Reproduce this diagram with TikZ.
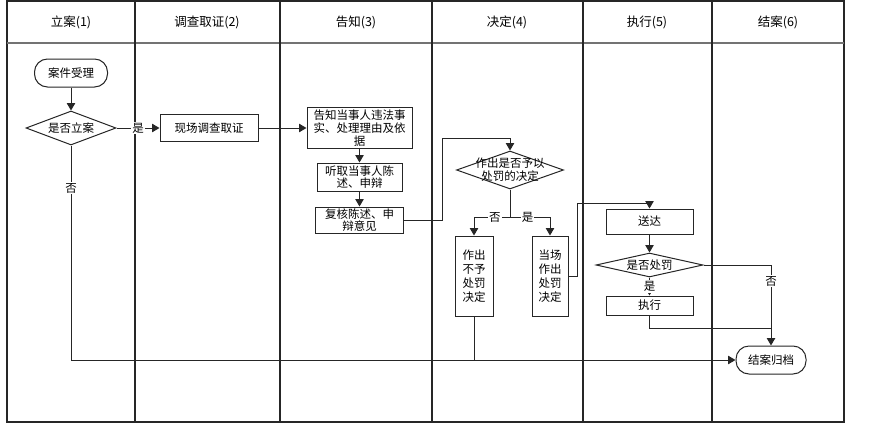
\documentclass[tikz,border=0pt]{standalone}
\usepackage{fontspec}
\setmainfont{Noto Sans CJK SC}
\usetikzlibrary{shapes,arrows.meta}
\tikzstyle{lane}=[draw=black!85,line width=1.3pt]
\tikzstyle{hd}=[font=\fontsize{12.5}{14}\selectfont]
\tikzstyle{bx}=[rectangle,draw=black!85,line width=1pt,inner sep=1pt,align=center,fill=white,font=\fontsize{11.5}{12.8}\selectfont]
\tikzstyle{tm}=[bx,rounded corners=13pt]
\tikzstyle{dm}=[diamond,draw=black!85,line width=1pt,inner sep=0pt,fill=white]
\tikzstyle{every label}=[align=center,font=\fontsize{11.5}{12.8}\selectfont]
\tikzstyle{ln}=[draw=black!85,line width=1pt]
\tikzstyle{ar}=[ln,-{Triangle[length=7.5pt,width=8.5pt]}]
\tikzstyle{lb}=[fill=white,inner sep=1pt,font=\fontsize{11.5}{12.8}\selectfont]

\begin{document}
\begin{tikzpicture}[x=1pt,y=-1pt]
\useasboundingbox (0,0) rectangle (874,428);
\draw[lane] (7,1) rectangle (844,422);
\draw[draw=black!55,line width=1.5pt] (7,43) -- (844,43);
\draw[lane] (135,1) -- (135,422);
\draw[lane] (280,1) -- (280,422);
\draw[lane] (432,1) -- (432,422);
\draw[lane] (583,1) -- (583,422);
\draw[lane] (712,1) -- (712,422);

\node[hd] (h1) at (71,22) {立案(1)};
\node[hd] (h2) at (207,22) {调查取证(2)};
\node[hd] (h3) at (356,22) {告知(3)};
\node[hd] (h4) at (507,22) {决定(4)};
\node[hd] (h5) at (647,22) {执行(5)};
\node[hd] (h6) at (778,22) {结案(6)};

\node[tm,minimum width=73pt,minimum height=28pt] (start) at (71,73) {案件受理};
\node[dm,minimum width=90pt,minimum height=34pt,label=center:{是否立案}] (d1) at (71,128) {};
\node[bx,minimum width=98pt,minimum height=27pt] (inv) at (209,128) {现场调查取证};
\node[bx,minimum width=105pt,minimum height=41pt] (tell) at (359.5,128) {告知当事人违法事\\实、处理理由及依\\据};
\node[bx,minimum width=85pt,minimum height=28pt] (hear) at (359.5,177) {听取当事人陈\\述、申辩};
\node[bx,minimum width=88pt,minimum height=26pt] (review) at (359.5,220) {复核陈述、申\\辩意见};
\node[dm,minimum width=107pt,minimum height=38pt,label=center:{作出是否予以\\处罚的决定}] (d2) at (510,170) {};
\node[bx,font=\fontsize{11.5}{14}\selectfont,minimum width=38pt,minimum height=80pt] (no) at (474,276) {作出\\不予\\处罚\\决定};
\node[bx,font=\fontsize{11.5}{14}\selectfont,minimum width=36pt,minimum height=80pt] (yes) at (550,276) {当场\\作出\\处罚\\决定};
\node[bx,minimum width=87pt,minimum height=25pt] (deliver) at (649.5,221.5) {送达};
\node[dm,minimum width=107pt,minimum height=24pt,label=center:{是否处罚}] (d3) at (649.5,265) {};
\node[bx,minimum width=87pt,minimum height=19pt] (exec) at (649.5,305.5) {执行};
\node[tm,minimum width=70pt,minimum height=28pt] (close) at (771,360) {结案归档};

\coordinate (k1) at (442,138);
\coordinate (k2) at (510,217);
\coordinate (k3) at (577,203);
\coordinate (k4) at (771,328);

\draw[ar] (start) -- (d1);
\draw[ar] (d1) -- node[lb]{是} (inv);
\draw[ar] (inv) -- (tell);
\draw[ar] (tell) -- (hear);
\draw[ar] (hear) -- (review);
\draw[ar] (review.east) -| (k1) -| (d2.north);
\draw[ln] (d2.south) -- (k2);
\draw[ar] (k2) -| node[lb,pos=0.21]{否} (no.north);
\draw[ar] (k2) -| node[lb,pos=0.22]{是} (yes.north);
\draw[ar] (yes.east) -| (k3) -| (deliver.north);
\draw[ar] (deliver) -- (d3);
\draw[ar] (d3) -- node[lb]{是} (exec);
\draw[ar] (d3.east) -| node[lb,pos=0.6]{否} (close.north);
\draw[ln] (exec.south) |- (k4);
\draw[ar] (d1.south) |- node[lb,pos=0.1]{否} (close.west);
\draw[ln] (no.south) -- (no.south |- close.west);
\end{tikzpicture}
\end{document}
